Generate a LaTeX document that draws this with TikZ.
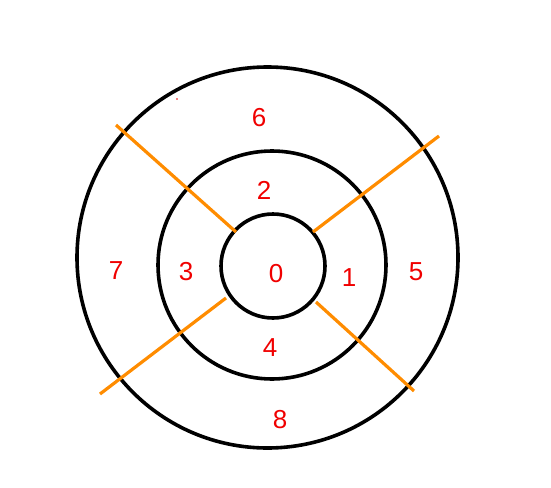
\documentclass[tikz,border=0pt]{standalone}
\usepackage{fontspec}
\setmainfont{Liberation Sans}
\definecolor{lineorange}{RGB}{255,140,0}
\definecolor{digitred}{RGB}{240,0,0}
\begin{document}
\begin{tikzpicture}[x=1pt,y=-1pt,
  ring/.style={draw=black,line width=3.6pt,circle,inner sep=0pt},
  cut/.style={draw=lineorange,line width=3.2pt},
  digit/.style={text=digitred,font=\fontsize{26}{28}\selectfont,inner sep=0pt}]
\useasboundingbox (0,0) rectangle (551,487);
\node[ring,minimum size=381pt] (outer) at (267.5,257.5) {};
\node[ring,minimum size=228pt] (middle) at (272,265) {};
\node[ring,minimum size=104pt] (inner) at (273,266) {};
\coordinate (tl1) at (236,232); \coordinate (tl2) at (116,125);
\coordinate (tr1) at (313,232); \coordinate (tr2) at (439,136);
\coordinate (bl1) at (226,298); \coordinate (bl2) at (100,394);
\coordinate (br1) at (316,302); \coordinate (br2) at (414,391);
\draw[cut] (tl1) -- (tl2);
\draw[cut] (tr1) -- (tr2);
\draw[cut] (bl1) -- (bl2);
\draw[cut] (br1) -- (br2);
\node[digit] (d6) at (259,118) {6};
\node[digit] (d2) at (264,190) {2};
\node[digit] (d7) at (116,271) {7};
\node[digit] (d3) at (186,272) {3};
\node[digit] (d0) at (276,274) {0};
\node[digit] (d1) at (349,278) {1};
\node[digit] (d5) at (416,272) {5};
\node[digit] (d4) at (270,348) {4};
\node[digit] (d8) at (280,420) {8};
\fill[digitred] (177,99) circle (0.8pt);
\end{tikzpicture}
\end{document}
